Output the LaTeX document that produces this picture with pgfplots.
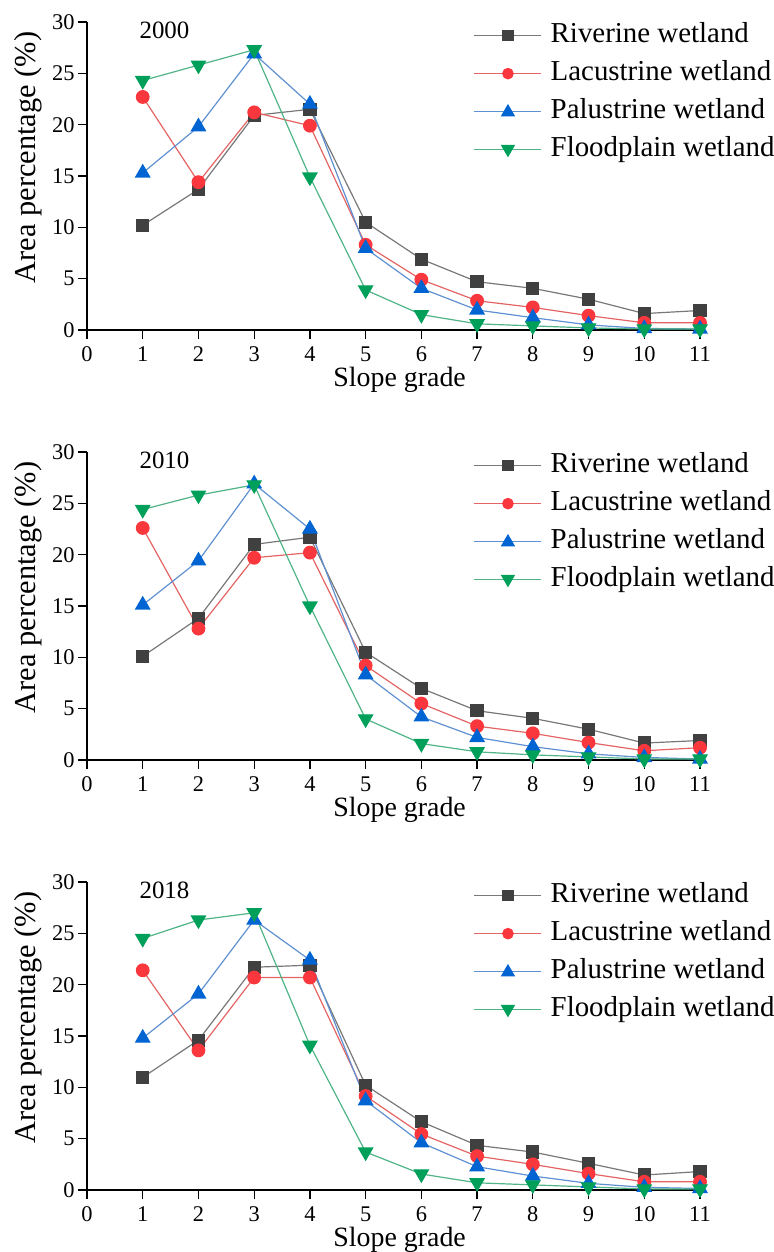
\documentclass[border=0pt]{standalone}
\usepackage{fontspec}
\setmainfont{Liberation Serif}
\usepackage{pgfplots}
\usepackage{pgfplotstable}
\pgfplotsset{compat=1.18}

\definecolor{rivL}{RGB}{120,120,120}
\definecolor{rivM}{RGB}{64,64,64}
\definecolor{lacL}{RGB}{228,100,100}
\definecolor{lacM}{RGB}{250,55,60}
\definecolor{palL}{RGB}{95,145,210}
\definecolor{palM}{RGB}{0,100,210}
\definecolor{floL}{RGB}{80,180,135}
\definecolor{floM}{RGB}{0,160,90}

\pgfplotstableread{
x riv lac pal flo
1 10.2 22.7 15.3 24.3
2 13.7 14.4 19.8 25.8
3 20.9 21.2 26.9 27.3
4 21.5 19.9 22.0 14.9
5 10.5 8.3 7.95 3.9
6 6.9 4.9 4.06 1.5
7 4.7 2.85 1.95 0.6
8 4.06 2.2 1.2 0.4
9 3.0 1.4 0.5 0.2
10 1.6 0.7 0.15 0.1
11 1.9 0.7 0.1 0.1
}\tabA

\pgfplotstableread{
x riv lac pal flo
1 10.1 22.6 15.1 24.4
2 13.8 12.8 19.4 25.8
3 21.0 19.7 26.9 26.8
4 21.7 20.2 22.5 15.0
5 10.5 9.2 8.3 4.0
6 6.98 5.5 4.2 1.6
7 4.8 3.3 2.2 0.8
8 4.06 2.6 1.3 0.5
9 3.0 1.7 0.6 0.3
10 1.65 0.9 0.25 0.1
11 1.9 1.2 0.1 0.1
}\tabB

\pgfplotstableread{
x riv lac pal flo
1 10.97 21.4 14.8 24.5
2 14.6 13.6 19.1 26.3
3 21.7 20.7 26.3 27.0
4 21.9 20.7 22.4 14.1
5 10.2 9.15 8.7 3.7
6 6.65 5.45 4.6 1.56
7 4.35 3.3 2.27 0.7
8 3.7 2.5 1.36 0.5
9 2.6 1.6 0.65 0.3
10 1.46 0.8 0.26 0.1
11 1.8 0.8 0.15 0.1
}\tabC

\pgfplotsset{
  panel/.style={
    anchor=south west,
    scale only axis,
    width=613bp, height=308bp,
    xmin=0, xmax=11, ymin=0, ymax=30,
    xtick={0,1,...,11}, ytick={0,5,...,30},
    axis x line=bottom, axis y line=left,
    axis line style={-, line width=1.3bp, black},
    major tick style={line width=1.3bp, black},
    major tick length=9bp,
    tick align=outside,
    clip=false,
    /pgf/number format/assume math mode=true,
    tick label style={font=\fontsize{22.5}{26}\selectfont},
    xticklabel style={yshift=-4bp},
    xlabel={Slope grade},
    ylabel={Area percentage (\%)},
    xlabel style={font=\fontsize{28}{32}\selectfont, at={(axis description cs:0.51,0)}, anchor=center, yshift=-50bp},
    ylabel style={font=\fontsize{30.5}{34}\selectfont, at={(axis description cs:-0.096,0.56)}, anchor=center, rotate=0},
    legend cell align=left,
    legend style={draw=none, fill=none, at={(axis description cs:0.6297,0.997)},
      anchor=north west, inner sep=0pt, row sep=13bp,
      font=\fontsize{29}{33}\selectfont,
      nodes={inner sep=0pt, text height=19bp, text depth=6bp},
      /tikz/every odd column/.append style={column sep=9bp}},
  },
}
\tikzset{
  riv/.style={draw=rivL, color=rivL, line width=1.2bp, mark=square*, mark size=6bp,
    mark options={fill=rivM, draw=rivM, solid}},
  lac/.style={draw=lacL, color=lacL, line width=1.2bp, mark=*, mark size=6.3bp,
    mark options={fill=lacM, draw=lacM, solid}},
  pal/.style={draw=palL, color=palL, line width=1.2bp, mark=triangle*, mark size=8bp,
    mark options={fill=palM, draw=palM, solid}},
  flo/.style={draw=floL, color=floL, line width=1.2bp, mark=triangle*, mark size=8bp,
    mark options={fill=floM, draw=floM, solid, rotate=180}},
}
\pgfplotsset{
  rivleg/.style={legend image code/.code={
    \draw[draw=rivL, line width=1.5bp] (0bp,0bp) -- (67bp,0bp);
    \fill[rivM] (29bp,-5bp) rectangle (39bp,5bp);}},
  lacleg/.style={legend image code/.code={
    \draw[draw=lacL, line width=1.5bp] (0bp,0bp) -- (67bp,0bp);
    \fill[lacM] (34bp,0bp) circle (5.2bp);}},
  palleg/.style={legend image code/.code={
    \draw[draw=palL, line width=1.5bp] (0bp,0bp) -- (67bp,0bp);
    \fill[palM] (34bp,6.5bp) -- (40.2bp,-4.2bp) -- (27.8bp,-4.2bp) -- cycle;}},
  floleg/.style={legend image code/.code={
    \draw[draw=floL, line width=1.5bp] (0bp,0bp) -- (67bp,0bp);
    \fill[floM] (34bp,-6.5bp) -- (40.2bp,4.2bp) -- (27.8bp,4.2bp) -- cycle;}},
}

\newcommand{\panelplots}[1]{%
  \addplot[riv, rivleg] table[x=x, y=riv] {#1};
  \addlegendentry{Riverine wetland}
  \addplot[lac, lacleg] table[x=x, y=lac] {#1};
  \addlegendentry{Lacustrine wetland}
  \addplot[pal, palleg] table[x=x, y=pal] {#1};
  \addlegendentry{Palustrine wetland}
  \addplot[flo, floleg] table[x=x, y=flo] {#1};
  \addlegendentry{Floodplain wetland}
}

\begin{document}
\begin{tikzpicture}
\useasboundingbox (0bp,0bp) rectangle (774bp,-1252bp);

\begin{axis}[panel, at={(87bp,-330bp)}]
\panelplots{\tabA}
\node[anchor=west, font=\fontsize{25}{29}\selectfont] at (axis cs:0.88,29.2) {2000};
\end{axis}

\begin{axis}[panel, at={(87bp,-760bp)}]
\panelplots{\tabB}
\node[anchor=west, font=\fontsize{25}{29}\selectfont] at (axis cs:0.88,29.2) {2010};
\end{axis}

\begin{axis}[panel, at={(87bp,-1190bp)}]
\panelplots{\tabC}
\node[anchor=west, font=\fontsize{25}{29}\selectfont] at (axis cs:0.88,29.2) {2018};
\end{axis}
\end{tikzpicture}
\end{document}
